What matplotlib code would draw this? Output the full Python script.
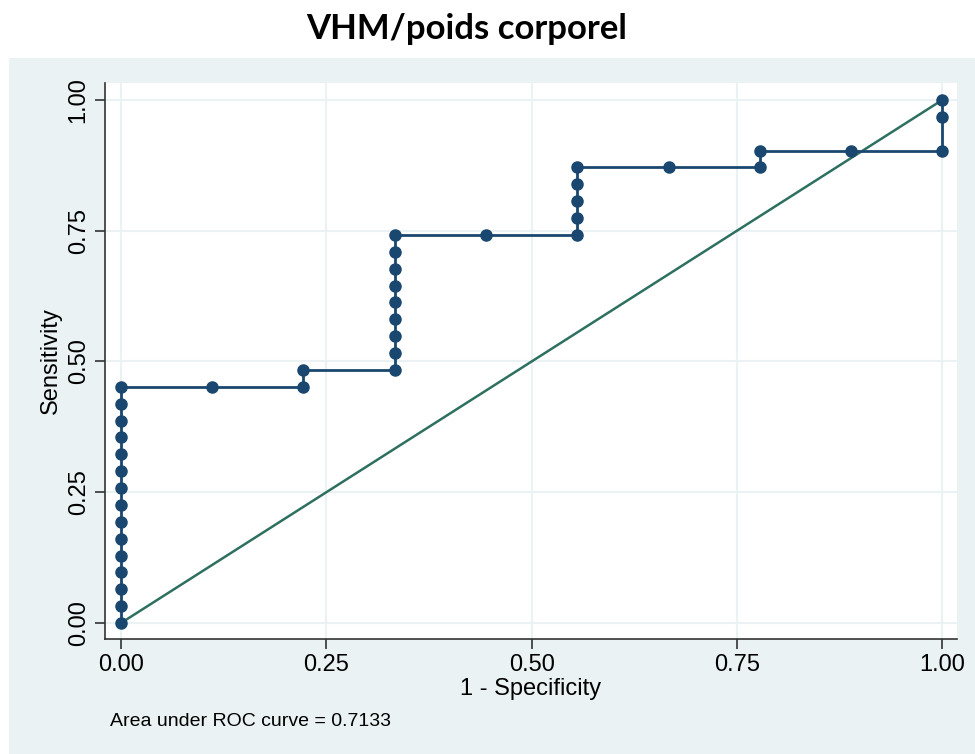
import matplotlib.pyplot as plt
from matplotlib.patches import Rectangle

# ROC points (1 - specificity, sensitivity)
fpr = [0, 0, 0, 0, 0, 0, 0, 0, 0, 0, 0, 0, 0, 0, 0,
       0.1111,
       0.2222, 0.2222,
       0.3333, 0.3333, 0.3333, 0.3333, 0.3333, 0.3333, 0.3333, 0.3333, 0.3333,
       0.4444,
       0.5556, 0.5556, 0.5556, 0.5556, 0.5556,
       0.6667,
       0.7778, 0.7778,
       0.8889,
       1.0, 1.0, 1.0]
tpr = [0, 0.0323, 0.0645, 0.0968, 0.1290, 0.1613, 0.1935, 0.2258, 0.2581,
       0.2903, 0.3226, 0.3548, 0.3871, 0.4194, 0.4516,
       0.4516,
       0.4516, 0.4839,
       0.4839, 0.5161, 0.5484, 0.5806, 0.6129, 0.6452, 0.6774, 0.7097, 0.7419,
       0.7419,
       0.7419, 0.7742, 0.8065, 0.8387, 0.8710,
       0.8710,
       0.8710, 0.9032,
       0.9032,
       0.9032, 0.9677, 1.0]
ref_line = [0, 1]
ticks = [0, 0.25, 0.5, 0.75, 1.0]
tick_labels = ["0.00", "0.25", "0.50", "0.75", "1.00"]
auc_text = "Area under ROC curve = 0.7133"
title = "VHM/poids corporel"

W, H = 975, 754
fig = plt.figure(figsize=(W / 100, H / 100), dpi=100)
fig.patch.set_facecolor("white")

panel = "#eaf2f3"
navy = "#1a476f"
green = "#2e7060"

# light graph region behind the plot
fig.patches.append(Rectangle((9 / W, 0), 1 - 9 / W, 1 - 58 / H,
                             transform=fig.transFigure, facecolor=panel,
                             edgecolor="none", zorder=0))

ax = fig.add_axes([105 / W, 1 - 639 / H, (957 - 105) / W, (639 - 83) / H])
ax.set_zorder(2)
ax.set_facecolor("white")
ax.set_xlim(-0.0195, 1.018)
ax.set_ylim(-0.0306, 1.0325)

ax.plot(fpr, tpr, color=navy, lw=2, marker="o", ms=8, mfc=navy, mec=navy,
        zorder=3, clip_on=False)
ax.plot(ref_line, ref_line, color=green, lw=1.8, zorder=2)

ax.set_xticks(ticks)
ax.set_xticklabels(tick_labels)
ax.set_yticks(ticks)
ax.set_yticklabels(tick_labels, rotation=90, va="center")
ax.grid(True, color=panel, lw=1.5)
ax.set_axisbelow(True)

for s in ["top", "right"]:
    ax.spines[s].set_visible(False)
for s in ["left", "bottom"]:
    ax.spines[s].set_color("#333333")
    ax.spines[s].set_linewidth(1.2)

font = "Liberation Sans"
ax.tick_params(direction="out", length=7, width=1.2, color="#333333",
               labelsize=17, pad=4)
for lab in ax.get_xticklabels() + ax.get_yticklabels():
    lab.set_fontfamily(font)

ax.set_xlabel("1 - Specificity", fontsize=17, family=font, labelpad=1)
ax.set_ylabel("Sensitivity", fontsize=17, family=font, labelpad=4)

fig.text(110 / W, 1 - 722 / H, auc_text, fontsize=14, family=font,
         va="center", ha="left", zorder=3)
fig.text(467 / W, 1 - 29 / H, title, fontsize=25, family="Lato",
         weight="bold", ha="center", va="center", zorder=3)

fig.savefig("out.png", dpi=100)
